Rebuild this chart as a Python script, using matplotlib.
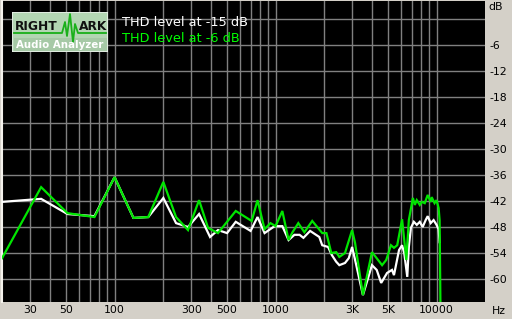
import matplotlib
matplotlib.use('Agg')
import matplotlib.pyplot as plt
from matplotlib.patches import Rectangle

# THD vs frequency
freq_15 = [20, 35, 51, 75, 100, 131, 162, 201, 241, 286, 335, 392, 439, 500, 566,
           700, 773, 855, 987, 1102, 1205, 1310, 1410, 1490, 1640, 1870, 1950, 2120,
           2240, 2380, 2490, 2700, 2850, 2990, 3120, 3490, 3970, 4250, 4530, 4930,
           5290, 5440, 5850, 6110, 6300, 6580, 6730, 6930, 7230, 7540, 7870, 8200,
           8560, 8810, 9200, 9590, 10000, 10300, 10450]
thd_15 = [-42.2, -41.5, -45.0, -45.5, -36.5, -45.9, -45.7, -41.3, -47.1, -48.0, -45.0,
          -50.3, -48.7, -49.4, -46.8, -48.9, -45.7, -49.4, -47.8, -47.8, -51.0, -49.8,
          -49.8, -50.5, -48.9, -50.3, -52.2, -52.6, -54.5, -56.0, -56.8, -56.3, -55.2,
          -52.6, -55.6, -63.7, -56.8, -57.9, -60.9, -58.6, -57.9, -59.1, -53.3, -52.2,
          -54.0, -59.5, -52.6, -48.2, -46.8, -47.5, -46.8, -48.0, -46.4, -45.5, -47.1,
          -46.4, -47.5, -48.5, -51.5]

freq_6 = [20, 35, 51, 75, 100, 131, 162, 201, 241, 286, 335, 381, 439, 566, 711,
          773, 855, 930, 1000, 1102, 1205, 1275, 1385, 1510, 1690, 1950, 2070, 2220,
          2380, 2490, 2700, 2990, 3120, 3490, 3970, 4250, 4590, 4870, 5210, 5440,
          5700, 6110, 6490, 6730, 7130, 7330, 7540, 7870, 8100, 8450, 8810, 9200,
          9330, 9720, 10000, 10300, 10450, 10600]
thd_6 = [-55.2, -38.8, -44.8, -45.7, -36.5, -45.9, -45.7, -37.6, -45.7, -48.7, -41.8,
         -48.2, -49.4, -44.3, -46.6, -41.8, -48.5, -47.1, -47.8, -44.3, -51.0, -49.2,
         -47.1, -49.2, -46.6, -49.4, -49.4, -54.0, -53.8, -54.9, -54.0, -48.7, -51.7,
         -63.7, -53.8, -55.2, -56.8, -55.6, -52.2, -52.8, -52.2, -46.2, -55.6, -46.4,
         -41.3, -42.9, -41.8, -42.9, -42.2, -42.5, -40.6, -42.2, -41.1, -42.5, -41.8,
         -43.6, -46.4, -70.0]

x_ticks = [30, 50, 100, 300, 500, 1000, 3000, 5000, 10000]
x_labels = ['30', '50', '100', '300', '500', '1000', '3K', '5K', '10000']
y_ticks = [-6, -12, -18, -24, -30, -36, -42, -48, -54, -60]

legend_labels = ['THD level at -15 dB', 'THD level at -6 dB']

BG = '#d4d0c8'
GRID = '#808080'
GREEN = '#00e600'

fig = plt.figure(figsize=(5.12, 3.19), dpi=100, facecolor=BG)
ax = fig.add_axes([2 / 512, 17 / 319, 483 / 512, 301 / 319])
ax.set_facecolor('black')
ax.set_xscale('log')
ax.set_xlim(20, 20000)
ax.set_ylim(-65.3, 4.15)

# grid: every 1-2-3..9 step on the frequency axis, 6 dB steps on the level axis
vgrid = [m * 10 ** d for d in range(1, 5) for m in range(1, 10)]
for f in vgrid:
    if 20 < f < 20000:
        ax.axvline(f, color=GRID, lw=1, zorder=1)
for lvl in [0] + y_ticks:
    ax.axhline(lvl, color=GRID, lw=1, zorder=1)

ax.plot(freq_15, thd_15, color='white', lw=1.6, zorder=3, solid_joinstyle='miter')
ax.plot(freq_6, thd_6, color=GREEN, lw=1.6, zorder=4, solid_joinstyle='miter')

for s in ax.spines.values():
    s.set_visible(False)
ax.spines['left'].set_visible(True)
ax.spines['left'].set_color('#f4f2ec')
ax.spines['left'].set_linewidth(1.5)

ax.set_xticks(x_ticks)
ax.set_xticklabels(x_labels)
ax.xaxis.set_minor_locator(matplotlib.ticker.NullLocator())
ax.set_yticks(y_ticks)
ax.set_yticklabels([str(v) for v in y_ticks])
ax.yaxis.tick_right()
ax.tick_params(length=0, labelsize=7.8, colors='black', pad=2)
ax.tick_params(axis='y', pad=3)
fig.text(488 / 512, 1 - 7 / 319, 'dB', fontsize=7.8, ha='left', va='center')
fig.text(492 / 512, 1 - 311 / 319, 'Hz', fontsize=7.8, ha='left', va='center')

# legend text, top left
fig.text(122 / 512, 1 - 22 / 319, legend_labels[0], color='white', fontsize=9.3,
         ha='left', va='center')
fig.text(122 / 512, 1 - 38 / 319, legend_labels[1], color='#00ff00', fontsize=9.3,
         ha='left', va='center')

# RightMark logo, drawn in its own pixel-space axes
logo = fig.add_axes([12 / 512, 1 - 52 / 319, 96 / 512, 40 / 319])
logo.set_xlim(0, 96)
logo.set_ylim(40, 0)
logo.axis('off')
logo.add_patch(Rectangle((0, 0), 96, 40, facecolor='#b3d6b3', edgecolor='#e8f0e8', lw=1.2))
logo.add_patch(Rectangle((1.5, 26), 93, 12.5, facecolor='#a6c9a6', edgecolor='none'))
wave_x = [2, 50, 53, 55, 58, 61, 63, 66, 94]
wave_y = [21, 21, 10, 24, 2, 30, 12, 21, 21]
logo.plot(wave_x, wave_y, color='#19b019', lw=1.3)
logo.text(2.5, 15, 'RIGHT', fontsize=8.8, fontweight='bold', color='#101010', va='center')
logo.text(67, 15, 'ARK', fontsize=8.8, fontweight='bold', color='#101010', va='center')
logo.text(48, 32.5, 'Audio Analyzer', fontsize=7.4, fontweight='bold', color='white',
          ha='center', va='center')

fig.savefig('out.png', dpi=100, facecolor=BG)
